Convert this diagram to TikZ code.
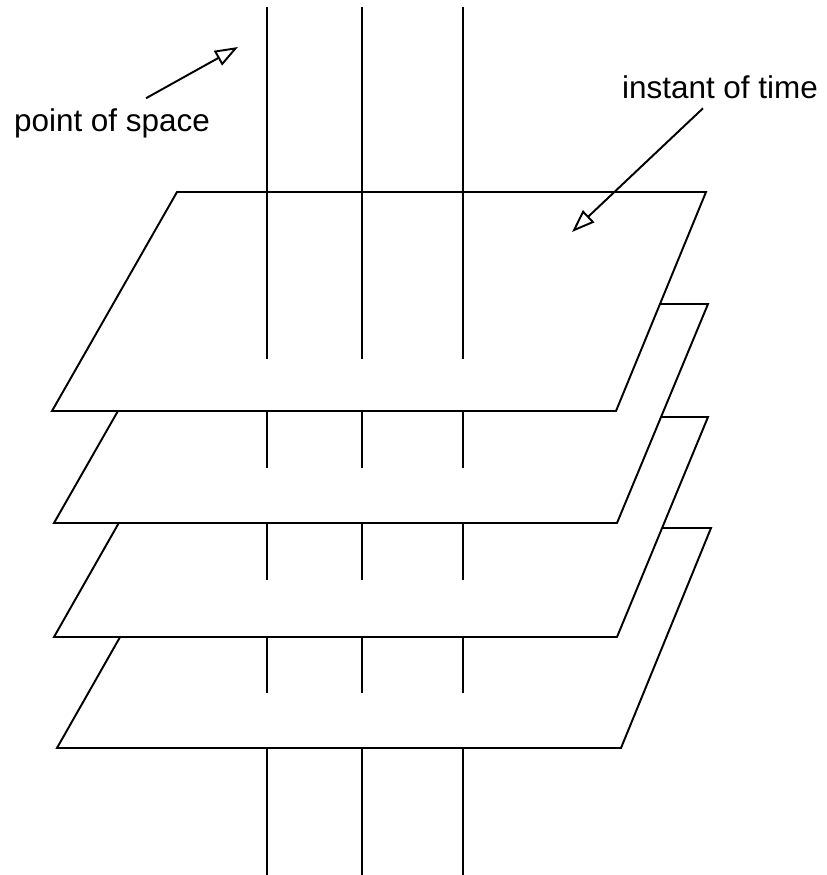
\documentclass[tikz,border=0pt]{standalone}
\usepackage{fontspec}
\setmainfont{Liberation Sans}
\usetikzlibrary{arrows.meta,calc}

\begin{document}
\begin{tikzpicture}[x=0.02cm,y=-0.02cm,line width=1.1pt,
  plane/.style={draw=black, fill=white, line join=miter},
  pointer/.style={-{Triangle[open,length=0.46cm,width=0.33cm]}},
  lbl/.style={font=\fontsize{17.9}{21.5}\selectfont, inner sep=0pt, anchor=base}]
\useasboundingbox (0,0) rectangle (827,875);
% slices of time, lowest first so the upper ones cover it
\draw[plane] (182,528) -- (711,528) -- (621,748) -- (57,748) -- cycle;
\draw[plane] (179,417) -- (708,417) -- (617,637) -- (54,637) -- cycle;
\draw[plane] (179,304) -- (708,304) -- (617,523) -- (54,523) -- cycle;
\draw[plane] (177,192) -- (706,192) -- (616,411) -- (52,411) -- cycle;
% world lines of the points
\draw (267,7) -- (267,359) (267,411) -- (267,468) (267,523) -- (267,580) (267,637) -- (267,693) (267,748) -- (267,875);
\draw (362,7) -- (362,359) (362,411) -- (362,468) (362,523) -- (362,580) (362,637) -- (362,693) (362,748) -- (362,875);
\draw (463,7) -- (463,359) (463,411) -- (463,468) (463,523) -- (463,580) (463,637) -- (463,693) (463,748) -- (463,875);
% labels
\node[lbl] (space) at (112,132) {point of space};
\node[lbl] (time) at (720,98) {instant of time};
\coordinate (space tip) at (238,47);
\coordinate (time tip) at (572,232);
\draw[pointer] ($(space.north)+(34,-10)$) -- (space tip);
\draw[pointer] ($(time.south)+(-17,9)$) -- (time tip);
\end{tikzpicture}
\end{document}
